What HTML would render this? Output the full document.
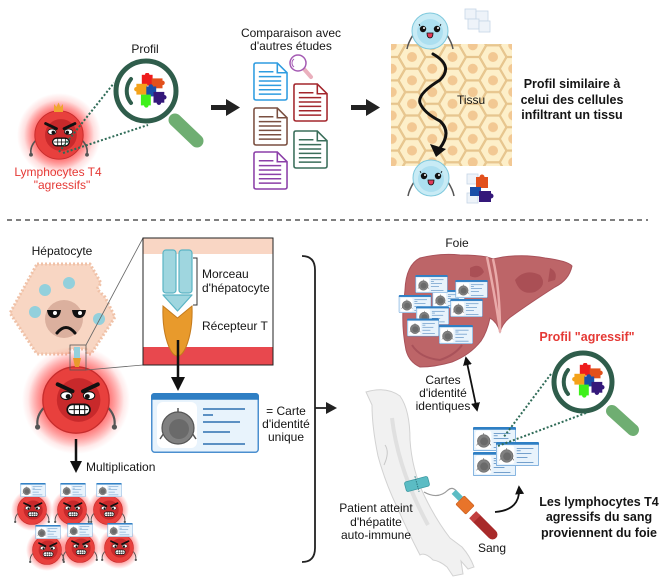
<!DOCTYPE html>
<html><head><meta charset="utf-8">
<style>
html,body{margin:0;padding:0;background:#fff;}
svg{display:block;}
text{font-family:"Liberation Sans",sans-serif;font-size:12px;fill:#151515;}
.b{font-weight:bold;font-size:12.5px;}
.r{fill:#e53935;}
</style></head><body>
<svg width="669" height="580" viewBox="0 0 669 580" xmlns="http://www.w3.org/2000/svg" xmlns:xlink="http://www.w3.org/1999/xlink">
<defs>
<radialGradient id="glow">
 <stop offset="0.6" stop-color="#ff2a2a" stop-opacity="0.55"/>
 <stop offset="1" stop-color="#ff2a2a" stop-opacity="0"/>
</radialGradient>
<radialGradient id="glow2">
 <stop offset="0.45" stop-color="#ff2a2a" stop-opacity="0.5"/>
 <stop offset="1" stop-color="#ff2a2a" stop-opacity="0"/>
</radialGradient>
<marker id="ah" viewBox="0 0 10 10" refX="8" refY="5" markerWidth="5" markerHeight="5" orient="auto-start-reverse">
 <path d="M0,0 L10,5 L0,10 Z" fill="#111"/>
</marker>
<symbol id="angry" viewBox="-55 -55 110 110">
 <circle r="55" fill="url(#glow)"/>
 <path d="M-36,8 Q-46,18 -44,30" stroke="#555" stroke-width="2.5" fill="none"/>
 <circle cx="-44" cy="31" r="3" fill="#555"/>
 <path d="M36,8 Q46,18 44,30" stroke="#555" stroke-width="2.5" fill="none"/>
 <circle cx="44" cy="31" r="3" fill="#555"/>
 <circle r="38" fill="#e8403d" stroke="#c62c2c" stroke-width="1.5"/>
 <circle cx="3" cy="0" r="25" fill="#c8292b"/>
 <ellipse cx="-11" cy="-5" rx="6.5" ry="4.5" fill="#fff" stroke="#111" stroke-width="1.2"/>
 <circle cx="-9" cy="-4" r="2.8" fill="#111"/>
 <ellipse cx="15" cy="-5" rx="6.5" ry="4.5" fill="#fff" stroke="#111" stroke-width="1.2"/>
 <circle cx="13" cy="-4" r="2.8" fill="#111"/>
 <path d="M-21,-18 L-4,-10" stroke="#111" stroke-width="4.5" stroke-linecap="round"/>
 <path d="M25,-18 L8,-10" stroke="#111" stroke-width="4.5" stroke-linecap="round"/>
 <rect x="-10" y="5" width="26" height="12" rx="6" fill="#fff" stroke="#111" stroke-width="2"/>
 <path d="M-8,11 H14 M-2,5 V17 M4,5 V17 M10,5 V17" stroke="#111" stroke-width="1.2"/>
</symbol>
<symbol id="blue" viewBox="-25 -25 50 50">
 <path d="M-17,4 Q-22,12 -23,18" stroke="#555" stroke-width="1.5" fill="none"/>
 <path d="M17,4 Q22,12 23,18" stroke="#555" stroke-width="1.5" fill="none"/>
 <circle r="18" fill="#c8ebf5" stroke="#7fc9dd" stroke-width="1"/>
 <circle cx="0" cy="1" r="13" fill="#acdff0"/>
 <circle cx="-7" cy="-2" r="3.2" fill="#111"/><circle cx="-6" cy="-3" r="1" fill="#fff"/>
 <circle cx="7" cy="-2" r="3.2" fill="#111"/><circle cx="8" cy="-3" r="1" fill="#fff"/>
 <path d="M-10,-5 L-11,-7 M10,-5 L11,-7" stroke="#111" stroke-width="0.8"/>
 <path d="M-3,2 H3 Q3,7 0,7 Q-3,7 -3,2Z" fill="#e23a5a" stroke="#111" stroke-width="0.8"/>
</symbol>
<symbol id="card" viewBox="0 0 108 60">
 <rect x="0.75" y="0.75" width="106.5" height="58.5" rx="3" fill="#e8f3fc" stroke="#4b8fcf" stroke-width="1.5"/>
 <path d="M0.75,6 V3.5 Q0.75,0.75 3.5,0.75 H104.5 Q107.25,0.75 107.25,3.5 V6 Z" fill="#2f7fc4" stroke="#2f7fc4" stroke-width="1.5"/>
 <rect x="6" y="9" width="40" height="46" rx="6" fill="#fff"/>
 <path d="M13,40 L9,46 M41,40 L45,46" stroke="#555" stroke-width="1.5"/>
 <circle cx="27" cy="35" r="16" fill="#808080" stroke="#555" stroke-width="1.2"/>
 <circle cx="28" cy="36" r="10" fill="#6a6a6a"/>
 <path d="M27,19 V15" stroke="#555" stroke-width="1.5"/>
 <path d="M52,16 H94 M52,22 H62 M52,29 H89 M52,39 H79 M52,51 H94" stroke="#2e6fb0" stroke-width="1.6"/>
</symbol>
<symbol id="doc" viewBox="0 0 36 40">
 <path d="M3,1 H25 L35,11 V37 Q35,39 33,39 H3 Q1,39 1,37 V3 Q1,1 3,1Z" fill="#fff" stroke="currentColor" stroke-width="1.6"/>
 <path d="M25,1 V11 H35" fill="none" stroke="currentColor" stroke-width="1.6"/>
 <path d="M6,10 H21 M6,15 H29 M6,19.5 H29 M6,24 H29 M6,28.5 H29 M6,33 H29" stroke="currentColor" stroke-width="1.6"/>
</symbol>
<symbol id="puz" viewBox="-20 -20 40 40">
 <rect x="-8" y="-18" width="12" height="12" fill="#ee1c1c"/><circle cx="-2" cy="-18" r="2.5" fill="#ee1c1c"/>
 <rect x="3" y="-14" width="12" height="11" fill="#e2501c"/><circle cx="15" cy="-9" r="2.5" fill="#e2501c"/>
 <rect x="-14" y="-8" width="12" height="12" fill="#f4a21a"/><circle cx="-14" cy="-2" r="2.5" fill="#f4a21a"/>
 <rect x="-3" y="-5" width="11" height="11" fill="#1a4fa8"/><circle cx="2" cy="-5" r="2.5" fill="#1a4fa8"/>
 <rect x="5" y="1" width="12" height="12" fill="#34187a"/><circle cx="17" cy="7" r="2.5" fill="#34187a"/><circle cx="11" cy="13" r="2.5" fill="#34187a"/>
 <rect x="-9" y="4" width="11" height="12" fill="#3ef01a"/><circle cx="-3" cy="16" r="2.5" fill="#3ef01a"/>
</symbol>
<pattern id="hex" patternUnits="userSpaceOnUse" x="412" y="57" width="40.5" height="23.4">
 <rect width="40.5" height="23.4" fill="#f3d8a6"/>
 <g fill="#fdefc9" stroke="#e6c48c" stroke-width="1.1">
  <polygon points="12.8,0 6.4,11.1 -6.4,11.1 -12.8,0 -6.4,-11.1 6.4,-11.1"/>
  <polygon points="12.8,23.4 6.4,34.5 -6.4,34.5 -12.8,23.4 -6.4,12.3 6.4,12.3"/>
  <polygon points="53.3,0 46.9,11.1 34.1,11.1 27.7,0 34.1,-11.1 46.9,-11.1"/>
  <polygon points="53.3,23.4 46.9,34.5 34.1,34.5 27.7,23.4 34.1,12.3 46.9,12.3"/>
  <polygon points="33,11.7 26.6,22.8 13.8,22.8 7.4,11.7 13.8,0.6 26.6,0.6"/>
 </g>
 <g fill="#f2c893">
  <circle cx="0" cy="0" r="5"/><circle cx="0" cy="23.4" r="5"/><circle cx="40.5" cy="0" r="5"/><circle cx="40.5" cy="23.4" r="5"/><circle cx="20.25" cy="11.7" r="5"/>
 </g>
</pattern>
</defs>

<!-- ========== TOP SECTION ========== -->
<circle cx="59" cy="135" r="42" fill="url(#glow2)"/>
<use href="#angry" x="24" y="100" width="70" height="70"/>
<path d="M54,112 L54,104 L56.5,107 L58.5,102.5 L60.5,107 L63,104 L63,112 Z" fill="#f0a630"/>
<text x="58" y="176" text-anchor="middle" class="r">Lymphocytes T4</text>
<text x="62" y="189" text-anchor="middle" class="r">"agressifs"</text>

<path d="M59,152 L114,83 M63,153 L148,125" stroke="#2f6b57" stroke-width="2" stroke-dasharray="2 2" fill="none"/>

<text x="145" y="53" text-anchor="middle">Profil</text>
<line x1="175" y1="120" x2="197" y2="141" stroke="#6fae72" stroke-width="13" stroke-linecap="round"/>
<circle cx="146" cy="91" r="30" fill="#fff" stroke="#2f5d4b" stroke-width="5"/>
<path d="M131,79 A19,19 0 0,0 131,103" fill="none" stroke="#2f5d4b" stroke-width="4" stroke-linecap="round"/>
<use href="#puz" x="131" y="73" width="36" height="36"/>

<rect x="211" y="105" width="17" height="5" fill="#222"/>
<polygon points="226,99 240,107.5 226,116" fill="#222"/>

<text x="291" y="37" text-anchor="middle">Comparaison avec</text>
<text x="291" y="50" text-anchor="middle">d'autres études</text>
<use href="#doc" x="253" y="62" width="35" height="39" style="color:#2e9ce0"/>
<use href="#doc" x="293" y="83" width="35" height="39" style="color:#a3262c"/>
<use href="#doc" x="253" y="107" width="35" height="39" style="color:#7a4f40"/>
<use href="#doc" x="293" y="130" width="35" height="39" style="color:#3a6e5a"/>
<use href="#doc" x="253" y="151" width="35" height="39" style="color:#8b3fa8"/>
<line x1="304" y1="69" x2="311" y2="77" stroke="#eab0bd" stroke-width="4" stroke-linecap="round"/>
<circle cx="298" cy="63" r="8" fill="#fff" stroke="#a45ab3" stroke-width="1.5"/>
<path d="M294,59 A5,5 0 0,0 294,67" fill="none" stroke="#a45ab3" stroke-width="1"/>

<rect x="351" y="105" width="17" height="5" fill="#222"/>
<polygon points="366,99 380,107.5 366,116" fill="#222"/>

<rect x="391" y="44" width="121" height="122" fill="url(#hex)"/>
<use href="#blue" x="405" y="6" width="50" height="50"/>
<use href="#blue" x="406" y="153" width="50" height="50"/>
<path d="M433,54 Q454,66 440,80 Q417,94 420,103 Q424,113 440,121 Q452,132 440,148" fill="none" stroke="#111" stroke-width="3" stroke-linecap="round"/>
<polygon points="430,144 446,149 436,157" fill="#111"/>
<text x="457" y="104">Tissu</text>
<g fill="#eef3f9" stroke="#c6d6e6" stroke-width="0.8">
 <rect x="465" y="9" width="11" height="10"/><rect x="476" y="11" width="12" height="10"/>
 <rect x="468" y="19" width="11" height="10"/><rect x="479" y="21" width="11" height="11"/>
</g>
<g fill="#eef3f9" stroke="#c6d6e6" stroke-width="0.8">
 <rect x="467" y="174" width="11" height="10"/><rect x="467" y="193" width="11" height="10"/>
</g>
<rect x="476" y="177" width="12" height="11" fill="#e2501c"/><circle cx="482" cy="177" r="2.5" fill="#e2501c"/>
<rect x="470" y="187" width="11" height="9" fill="#1a4fa8"/>
<rect x="479" y="191" width="12" height="11" fill="#34187a"/><circle cx="491" cy="196" r="2.5" fill="#34187a"/>

<text x="572" y="88" text-anchor="middle" class="b">Profil similaire à</text>
<text x="572" y="104" text-anchor="middle" class="b">celui des cellules</text>
<text x="572" y="119" text-anchor="middle" class="b">infiltrant un tissu</text>

<line x1="7" y1="220" x2="648" y2="220" stroke="#333" stroke-width="1.3" stroke-dasharray="5 4"/>

<!-- ========== BOTTOM LEFT ========== -->
<text x="62" y="255" text-anchor="middle">Hépatocyte</text>
<path d="M37,264 L90,264 L101,283 L97,289 L105,297 L115,317 L91,354 L87,354 L86,349 L70,349 L69,354 L37,354 L10,313 Z" fill="#f8d6c3" stroke="#f0c2a8" stroke-width="3" stroke-dasharray="2 2" stroke-linejoin="round"/>
<circle cx="45" cy="290" r="6" fill="#93d0dc"/>
<circle cx="69" cy="283" r="6" fill="#93d0dc"/>
<circle cx="35" cy="312" r="6" fill="#93d0dc"/>
<circle cx="99" cy="319" r="6" fill="#93d0dc"/>
<circle cx="64" cy="319" r="19" fill="#dbb09e"/>
<path d="M47,310 H61 Q60,318 54,318 Q48,318 47,310Z" fill="#111"/>
<circle cx="55" cy="313" r="2" fill="#fff"/>
<path d="M72,310 H86 Q85,318 79,318 Q73,318 72,310Z" fill="#111"/>
<circle cx="80" cy="313" r="2" fill="#fff"/>
<path d="M57,333 Q66,322 75,333" fill="none" stroke="#111" stroke-width="3" stroke-linecap="round"/>

<circle cx="76" cy="400" r="54" fill="url(#glow2)"/>
<use href="#angry" x="28" y="352" width="96" height="96"/>
<rect x="74" y="347" width="6" height="11" fill="#93d0dc"/>
<path d="M73,358 H81 L79,367 H75 Z" fill="#e89a2c"/>
<rect x="70" y="345" width="16" height="25" fill="none" stroke="#555" stroke-width="0.8"/>
<path d="M86,345 L143,238 M86,370 L143,365" stroke="#666" stroke-width="0.8"/>

<rect x="143" y="238" width="130" height="127" fill="#fff"/>
<rect x="143" y="238" width="130" height="16" fill="#f9d6c4"/>
<rect x="143" y="347" width="130" height="18" fill="#e8484e"/>
<rect x="143" y="238" width="130" height="127" fill="none" stroke="#222" stroke-width="1"/>
<rect x="163" y="250" width="13" height="43" rx="3" fill="#9fd6df" stroke="#5ab4c4" stroke-width="1.2"/>
<rect x="179" y="250" width="13" height="43" rx="3" fill="#9fd6df" stroke="#5ab4c4" stroke-width="1.2"/>
<path d="M163,295 H192 L177.5,311 Z" fill="#9fd6df" stroke="#5ab4c4" stroke-width="1.2" stroke-linejoin="round"/>
<path d="M163,306 L177.5,318 L192,306 Q193,330 186,347 Q182,356 177.5,356 Q173,356 169,347 Q162,330 163,306 Z" fill="#e89a2c" stroke="#c47a1c" stroke-width="1"/>
<path d="M193,258 H197 V305 H193" fill="none" stroke="#333" stroke-width="1"/>
<text x="202" y="278">Morceau</text>
<text x="202" y="292">d'hépatocyte</text>
<text x="202" y="330">Récepteur T</text>
<line x1="178" y1="340" x2="178" y2="378" stroke="#111" stroke-width="2.5"/>
<polygon points="171,377 185,377 178,391" fill="#111"/>

<use href="#card" x="151" y="393" width="108" height="60"/>
<text x="286" y="415" text-anchor="middle">= Carte</text>
<text x="286" y="428" text-anchor="middle">d'identité</text>
<text x="286" y="441" text-anchor="middle">unique</text>

<line x1="76" y1="439" x2="76" y2="462" stroke="#111" stroke-width="2.5"/>
<polygon points="70,461 82,461 76,473" fill="#111"/>
<text x="86" y="471">Multiplication</text>

<use href="#angry" x="11" y="489" width="42" height="42"/>
<use href="#angry" x="51" y="489" width="42" height="42"/>
<use href="#angry" x="87" y="489" width="42" height="42"/>
<use href="#angry" x="26" y="529" width="42" height="42"/>
<use href="#angry" x="59" y="527" width="42" height="42"/>
<use href="#angry" x="98" y="527" width="42" height="42"/>
<use href="#card" x="20" y="483" width="26" height="14"/>
<use href="#card" x="60" y="483" width="26" height="14"/>
<use href="#card" x="96" y="483" width="26" height="14"/>
<use href="#card" x="35" y="525" width="26" height="14"/>
<use href="#card" x="67" y="523" width="26" height="14"/>
<use href="#card" x="107" y="523" width="26" height="14"/>

<path d="M302,256 Q315,256 315,270 V548 Q315,562 302,562" fill="none" stroke="#222" stroke-width="1.8"/>
<line x1="315" y1="408" x2="328" y2="408" stroke="#222" stroke-width="1.8"/>
<polygon points="326,402 337,408 326,414" fill="#222"/>

<!-- ========== BOTTOM RIGHT ========== -->
<text x="457" y="247" text-anchor="middle">Foie</text>
<path d="M405,290 Q406,265 420,258 Q440,253 460,255 Q476,255 487,257 L493,259 L503,257 Q525,254 545,258 Q568,261 572,266 Q569,280 555,287 Q530,303 512,316 Q503,322 500,332 Q497,322 490,318 Q487,332 481,341 Q470,355 452,362 Q435,367 420,367 Q409,362 406,350 Q402,330 403,310 Z" fill="#bd6568" stroke="#a9525a" stroke-width="1"/>
<path d="M487,257 Q494,290 500,330 M493,259 Q500,290 500,332" fill="none" stroke="#e9aaa9" stroke-width="2.5"/>
<path d="M515,280 Q525,268 540,275 Q548,285 535,292 Q520,296 515,280Z" fill="#aa4f55"/>
<path d="M550,268 Q558,272 555,280 L548,282 Z" fill="#aa4f55"/>
<path d="M470,268 Q480,262 484,272 Q478,280 470,276Z" fill="#aa4f55"/>
<path d="M412,345 Q420,358 440,360 Q455,355 462,345" fill="none" stroke="#a9525a" stroke-width="2"/>
<use href="#card" x="432" y="290" width="33" height="18"/>
<use href="#card" x="415" y="275" width="33" height="18"/>
<use href="#card" x="455" y="280" width="33" height="18"/>
<use href="#card" x="398" y="295" width="34" height="18"/>
<use href="#card" x="450" y="299" width="33" height="18"/>
<use href="#card" x="416" y="306" width="33" height="19"/>
<use href="#card" x="407" y="318" width="32" height="19"/>
<use href="#card" x="439" y="325" width="34" height="19"/>

<text x="443" y="384" text-anchor="middle">Cartes</text>
<text x="443" y="397" text-anchor="middle">d'identité</text>
<text x="443" y="410" text-anchor="middle">identiques</text>
<line x1="466" y1="358" x2="477" y2="410" stroke="#111" stroke-width="1.8" marker-start="url(#ah)" marker-end="url(#ah)"/>

<path d="M366,392 Q386,386 400,396 Q410,410 410,440 Q412,470 424,495 Q436,520 450,538 L462,547 Q470,556 474,567 L468,569 L461,561 L463,574 L453,576 L447,567 Q440,561 433,560 Q425,552 420,555 Q408,532 397,507 Q385,482 378,456 Q372,427 372,405 Z" fill="#f1f1f1" stroke="#d2d2d2" stroke-width="1"/>
<path d="M392,418 Q398,470 428,525" fill="none" stroke="#e0e0e0" stroke-width="4"/>
<path d="M385,445 Q390,452 384,465" fill="none" stroke="#c8c8c8" stroke-width="1"/>
<path d="M424,492 Q438,500 448,490 Q453,486 457,492" fill="none" stroke="#9a9a9a" stroke-width="1.2"/>
<g transform="rotate(-15 417 484)">
 <rect x="405" y="479" width="24" height="10" rx="2" fill="#5bbcc4" stroke="#3d9aa3" stroke-width="0.8"/>
 <line x1="417" y1="476" x2="417" y2="492" stroke="#2e7a82" stroke-width="1" stroke-dasharray="1.5 1"/>
</g>
<g transform="rotate(-45 458 496)"><rect x="455" y="490" width="6" height="10" fill="#5bbcc4"/></g>
<g transform="rotate(-45 465 505)"><rect x="459" y="498" width="12" height="14" rx="1" fill="#e8742a" stroke="#c55a1a" stroke-width="0.6"/></g>
<g transform="rotate(-45 484 526)"><rect x="479" y="510" width="10" height="33" rx="5" fill="#a82a2a"/><rect x="479" y="510" width="10" height="6" fill="#c24040"/></g>

<text x="376" y="512" text-anchor="middle">Patient atteint</text>
<text x="376" y="526" text-anchor="middle">d'hépatite</text>
<text x="376" y="539" text-anchor="middle">auto-immune</text>
<text x="492" y="552" text-anchor="middle">Sang</text>

<use href="#card" x="473" y="427" width="43" height="24"/>
<use href="#card" x="473" y="452" width="43" height="24"/>
<use href="#card" x="496" y="442" width="43" height="24"/>

<path d="M495,512 Q521,510 519,487" fill="none" stroke="#111" stroke-width="1.8" marker-end="url(#ah)"/>

<text x="599" y="506" text-anchor="middle" class="b">Les lymphocytes T4</text>
<text x="599" y="521" text-anchor="middle" class="b">agressifs du sang</text>
<text x="599" y="537" text-anchor="middle" class="b">proviennent du foie</text>

<text x="587" y="341" text-anchor="middle" class="b r">Profil "agressif"</text>
<line x1="612" y1="411" x2="633" y2="430" stroke="#6fae72" stroke-width="12" stroke-linecap="round"/>
<circle cx="583" cy="382" r="29" fill="#fff" stroke="#2f5d4b" stroke-width="5"/>
<path d="M568,370 A19,19 0 0,0 568,394" fill="none" stroke="#2f5d4b" stroke-width="4" stroke-linecap="round"/>
<use href="#puz" x="569" y="363" width="36" height="36"/>
<path d="M551,374 L503,438 M586,413 L498,446" stroke="#2f6b57" stroke-width="2" stroke-dasharray="2 2" fill="none"/>
</svg>
</body></html>
